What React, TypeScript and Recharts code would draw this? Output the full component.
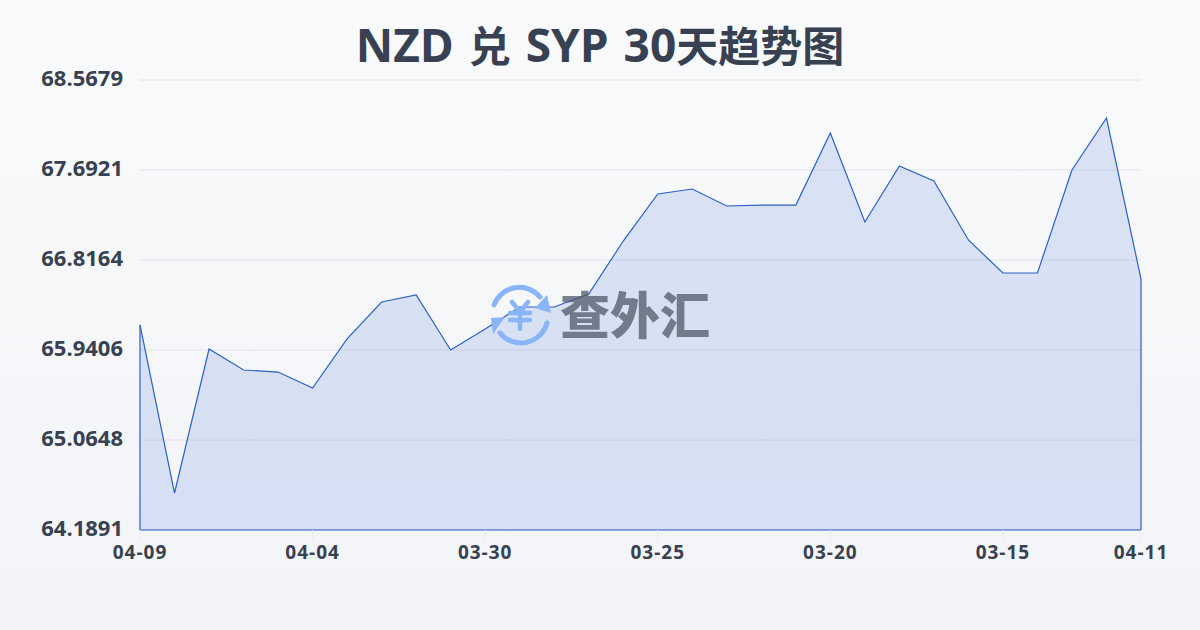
import React from 'react';
import { AreaChart, Area, XAxis, YAxis, CartesianGrid, ReferenceLine } from 'recharts';

const dates = [
  '04-09', '04-08', '04-07', '04-06', '04-05', '04-04', '04-03', '04-02', '04-01', '03-31',
  '03-30', '03-29', '03-28', '03-27', '03-26', '03-25', '03-24', '03-23', '03-22', '03-21',
  '03-20', '03-19', '03-18', '03-17', '03-16', '03-15', '03-14', '03-13', '03-12', '04-11',
];

const rates = [
  66.184, 64.549, 65.95, 65.746, 65.726, 65.571, 66.048, 66.408, 66.476, 65.941,
  66.145, 66.359, 66.359, 66.485, 67.001, 67.459, 67.507, 67.342, 67.351, 67.351,
  68.052, 67.186, 67.731, 67.585, 67.011, 66.69, 66.69, 67.692, 68.198, 66.631,
];

const xTicks = ['04-09', '04-04', '03-30', '03-25', '03-20', '03-15', '04-11'];
const yTicks = [64.1891, 65.0648, 65.9406, 66.8164, 67.6921, 68.5679];

const data = dates.map((date, i) => ({ date, rate: rates[i] }));

const FONT = '"Open Sans", "Noto Sans CJK SC", sans-serif';
const LINE = '#2b5fc7';
const BASE = yTicks[0];

const App: React.FC = () => {
  const cjk = { fontSize: 42 };

  return (
    <div
      style={{
        position: 'fixed',
        left: 0,
        top: 0,
        width: 1200,
        height: 630,
        overflow: 'hidden',
        background: 'linear-gradient(180deg, #f8fafc 0%, #f3f4f7 100%)',
        fontFamily: FONT,
      }}
    >
      <div
        style={{
          position: 'absolute',
          left: 0,
          top: 12,
          width: 1200,
          textAlign: 'center',
          fontSize: 46,
          wordSpacing: 3,
          lineHeight: '64px',
          fontWeight: 700,
          color: '#374151',
        }}
      >
        NZD <span style={cjk}>兑</span> SYP 30<span style={cjk}>天趋势图</span>
      </div>

      <AreaChart
        width={1200}
        height={630}
        data={data}
        margin={{ top: 80, right: 59, left: 0, bottom: 70 }}
        style={{ position: 'absolute', left: 0, top: 0 }}
      >
        <CartesianGrid vertical={false} stroke="#e2e5ea" strokeWidth={1} />
        <XAxis
          dataKey="date"
          type="category"
          scale="point"
          ticks={xTicks}
          interval={0}
          axisLine={false}
          tickLine={{ stroke: '#e8eaee' }}
          tickSize={10}
          tickMargin={6}
          tick={{ fontSize: 19, fontWeight: 700, fill: '#374151', fontFamily: FONT, letterSpacing: 1 }}
        />
        <YAxis
          type="number"
          width={140}
          domain={[BASE, yTicks[5]]}
          ticks={yTicks}
          tickFormatter={(v: number) => v.toFixed(4)}
          axisLine={false}
          tickLine={false}
          tickSize={0}
          tickMargin={17}
          tick={{ fontSize: 22, fontWeight: 700, fill: '#374151', fontFamily: FONT, dy: -2 }}
        />
        <Area
          type="linear"
          dataKey="rate"
          stroke={LINE}
          strokeWidth={1.2}
          fill="#245cd6"
          fillOpacity={0.14}
          baseValue={BASE}
          dot={false}
          activeDot={false}
          isAnimationActive={false}
        />
        <ReferenceLine y={BASE} stroke={LINE} strokeWidth={1.2} />
        <ReferenceLine
          segment={[{ x: dates[0], y: BASE }, { x: dates[0], y: rates[0] }]}
          stroke={LINE}
          strokeWidth={1.2}
        />
        <ReferenceLine
          segment={[{ x: dates[29], y: BASE }, { x: dates[29], y: rates[29] }]}
          stroke={LINE}
          strokeWidth={1.2}
        />
      </AreaChart>

      {/* watermark */}
      <svg
        width={70}
        height={70}
        viewBox="0 0 70 70"
        style={{ position: 'absolute', left: 485, top: 280 }}
      >
        <g fill="none" stroke="#8ab4f8" strokeWidth={5} strokeLinecap="round">
          <path d="M9 25 A27 27 0 0 1 55 17" />
          <path d="M62 43 A27 27 0 0 1 15 53" />
          <path d="M27 22 L35 32 L43 22 M35 32 L35 49 M25 33 L45 33 M25 40 L45 40" strokeWidth={4.5} />
        </g>
        <path d="M62 15 L66 33 L50 28 Z" fill="#8ab4f8" />
        <path d="M6 38 L20 37 L8 54 Z" fill="#8ab4f8" />
      </svg>
      <div
        style={{
          position: 'absolute',
          left: 560,
          top: 280,
          fontSize: 50,
          lineHeight: '70px',
          fontWeight: 900,
          color: '#4b5563',
          opacity: 0.72,
          whiteSpace: 'nowrap',
        }}
      >
        查外汇
      </div>
    </div>
  );
};

export default App;
